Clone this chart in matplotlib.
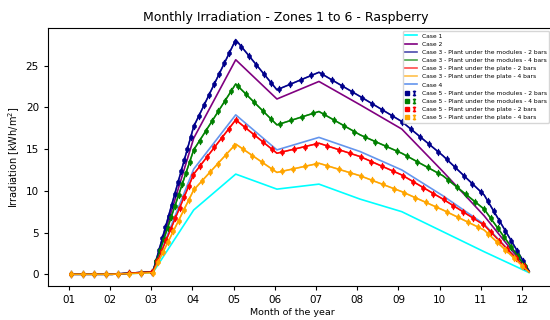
import numpy as np
import matplotlib
matplotlib.use("Agg")
import matplotlib.pyplot as plt
from matplotlib.lines import Line2D
from matplotlib.legend_handler import HandlerTuple
from matplotlib.patheffects import AbstractPathEffect
from matplotlib.markers import MarkerStyle
from matplotlib.path import Path
from matplotlib.transforms import Affine2D, IdentityTransform

# month position of each monthly value
months = [1.05, 2.05, 3.04, 4.03, 5.05, 6.05, 7.07, 8.07, 9.08, 10.08, 11.08, 12.17]
month_ticks = list(range(1, 13))
month_labels = ["%02d" % m for m in month_ticks]

case1 = [0, 0, 0.2, 7.7, 12.0, 10.2, 10.8, 9.0, 7.5, 5.1, 2.7, 0.2]
case2 = [0, 0, 0.3, 16.3, 25.7, 21.0, 23.1, 20.3, 17.4, 12.3, 7.0, 0.3]
mod_2bars = [0, 0, 0.3, 17.7, 28.1, 22.1, 24.2, 21.3, 18.3, 14.2, 9.5, 0.4]
mod_4bars = [0, 0, 0.3, 14.9, 22.8, 17.9, 19.5, 16.7, 14.5, 11.8, 7.8, 0.3]
plate_2bars = [0, 0, 0.3, 12.0, 18.5, 14.5, 15.7, 14.1, 11.9, 9.0, 5.9, 0.3]
plate_4bars = [0, 0, 0.2, 10.1, 15.6, 12.2, 13.3, 11.8, 9.9, 7.7, 5.3, 0.25]
case4 = [0, 0, 0.3, 12.6, 19.1, 14.9, 16.4, 14.7, 12.5, 9.4, 6.0, 0.3]


# draws the line, then dots with small vertical bars at even spacing along it
class DotsAlong(AbstractPathEffect):
    def __init__(self, color, step=8.4, size=3.0, bar=4.6):
        super().__init__()
        self.color = color
        self.step = step
        self.size = size
        self.bar = bar

    def draw_path(self, renderer, gc, tpath, affine, rgbFace=None):
        renderer.draw_path(gc, tpath, affine, rgbFace)
        pts = affine.transform(tpath.vertices)
        seg = np.hypot(*np.diff(pts, axis=0).T)
        cum = np.concatenate([[0], np.cumsum(seg)])
        s = np.arange(0, cum[-1] + 1e-6, renderer.points_to_pixels(self.step))
        where = Path(np.column_stack([np.interp(s, cum, pts[:, 0]),
                                      np.interp(s, cum, pts[:, 1])]))
        gc0 = renderer.new_gc()
        gc0.copy_properties(gc)
        gc0.set_foreground(self.color)
        rgb = matplotlib.colors.to_rgb(self.color)
        m = MarkerStyle("|")
        gc0.set_linewidth(0.9)
        renderer.draw_markers(gc0, m.get_path(),
                              m.get_transform() + Affine2D().scale(renderer.points_to_pixels(self.bar)),
                              where, IdentityTransform(), None)
        m = MarkerStyle("o")
        gc0.set_linewidth(0.4)
        renderer.draw_markers(gc0, m.get_path(),
                              m.get_transform() + Affine2D().scale(renderer.points_to_pixels(self.size)),
                              where, IdentityTransform(), rgb)
        gc0.restore()


fig = plt.figure(figsize=(5.5, 3.2), dpi=100)
ax = fig.add_axes([48 / 550, 34 / 320, 504 / 550, 258 / 320])

lw = 1.2
handles = []
labels = []

h, = ax.plot(months, case1, color="cyan", lw=lw)
handles.append(h); labels.append("Case 1")
h, = ax.plot(months, case2, color="purple", lw=lw)
handles.append(h); labels.append("Case 2")

series = [
    (mod_2bars, "darkblue", "Plant under the modules - 2 bars"),
    (mod_4bars, "green", "Plant under the modules - 4 bars"),
    (plate_2bars, "red", "Plant under the plate - 2 bars"),
    (plate_4bars, "orange", "Plant under the plate - 4 bars"),
]
for vals, col, name in series:
    h, = ax.plot(months, vals, color=col, lw=lw, alpha=0.7)
    handles.append(h); labels.append("Case 3 - " + name)

h, = ax.plot(months, case4, color="cornflowerblue", lw=lw)
handles.append(h); labels.append("Case 4")

for vals, col, name in series:
    ax.plot(months, vals, color=col, lw=1.0, path_effects=[DotsAlong(col)])
    sq = Line2D([], [], color=col, marker="s", ls="none", ms=3)
    bar = Line2D([], [], color=col, marker=r"$\mathtt{I}$", ls="none", ms=3.5)
    handles.append((sq, bar)); labels.append("Case 5 - " + name)

ax.set_xticks(month_ticks)
ax.set_xticklabels(month_labels)
ax.tick_params(labelsize=7.5, length=3)
ax.set_title("Monthly Irradiation - Zones 1 to 6 - Raspberry", fontsize=9, pad=5,
             x=(285.5 - 48) / 504)
ax.set_xlabel("Month of the year", fontsize=6.8)
ax.xaxis.set_label_coords((292 - 48) / 504, -0.085)
ax.set_ylabel("Irradiation [kWh/m$^2$]", fontsize=7)
ax.yaxis.set_label_coords(-(48 - 22) / 504, 0.5)

ax.legend(handles, labels, loc="upper right", fontsize=4.3,
          handler_map={tuple: HandlerTuple(ndivide=None)})

fig.savefig("out.png", dpi=100)
